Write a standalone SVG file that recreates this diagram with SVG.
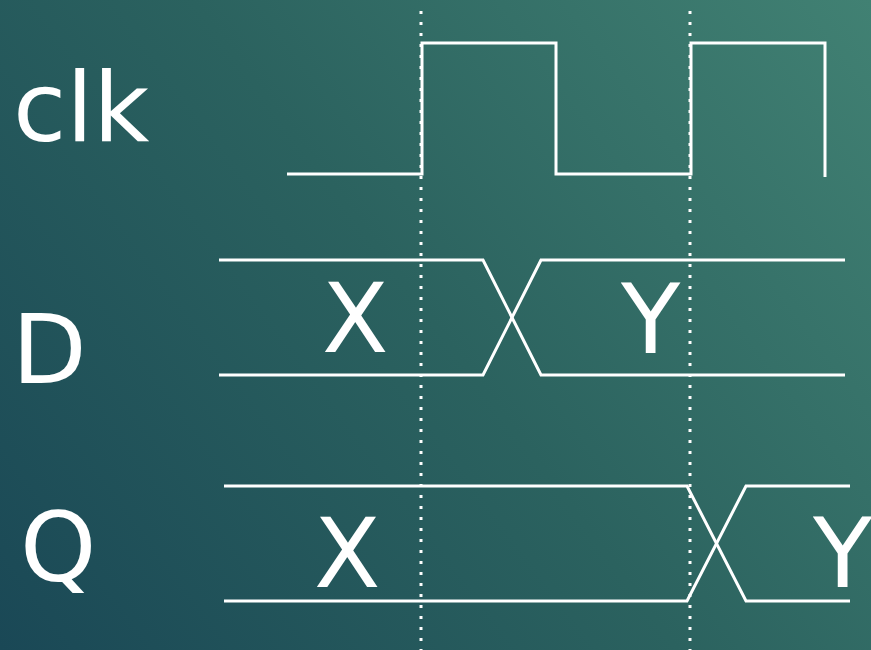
<svg xmlns="http://www.w3.org/2000/svg" width="871" height="650" viewBox="0 0 871 650">
<defs>
<linearGradient id="bg" x1="0" y1="650" x2="871" y2="0" gradientUnits="userSpaceOnUse">
<stop offset="0" stop-color="#1a4856"/>
<stop offset="0.5" stop-color="#2b625f"/>
<stop offset="1" stop-color="#418173"/>
</linearGradient>
<style>
.w{fill:none;stroke:#ffffff;stroke-width:3;stroke-linejoin:miter}
.dot{fill:none;stroke:#ffffff;stroke-width:3;stroke-dasharray:3 8}
.t{fill:#ffffff;font-family:"DejaVu Sans",Verdana,sans-serif;font-size:97px}
</style>
</defs>
<rect width="871" height="650" fill="url(#bg)"/>
<g id="labels">
<text class="t" x="13" y="141">clk</text>
<text class="t" x="12" y="383">D</text>
<text class="t" x="20" y="581">Q</text>
</g>
<g id="connectors">
<line class="dot" x1="421" y1="11" x2="421" y2="650"/>
<line class="dot" x1="690" y1="11" x2="690" y2="650"/>
</g>
<g id="clk">
<polyline class="w" points="287,174 422,174 422,43 556,43 556,174 691,174 691,43 825,43 825,177"/>
</g>
<g id="D">
<polyline class="w" points="219,260 483,260 541,375 845,375"/>
<polyline class="w" points="219,375 483,375 541,260 845,260"/>
<text class="t" x="322" y="352">X</text>
<text class="t" x="621" y="353">Y</text>
</g>
<g id="Q">
<polyline class="w" points="224,486 687,486 746,601 850,601"/>
<polyline class="w" points="224,601 687,601 746,486 850,486"/>
<text class="t" x="314" y="587">X</text>
<text class="t" x="813" y="587">Y</text>
</g>
</svg>
